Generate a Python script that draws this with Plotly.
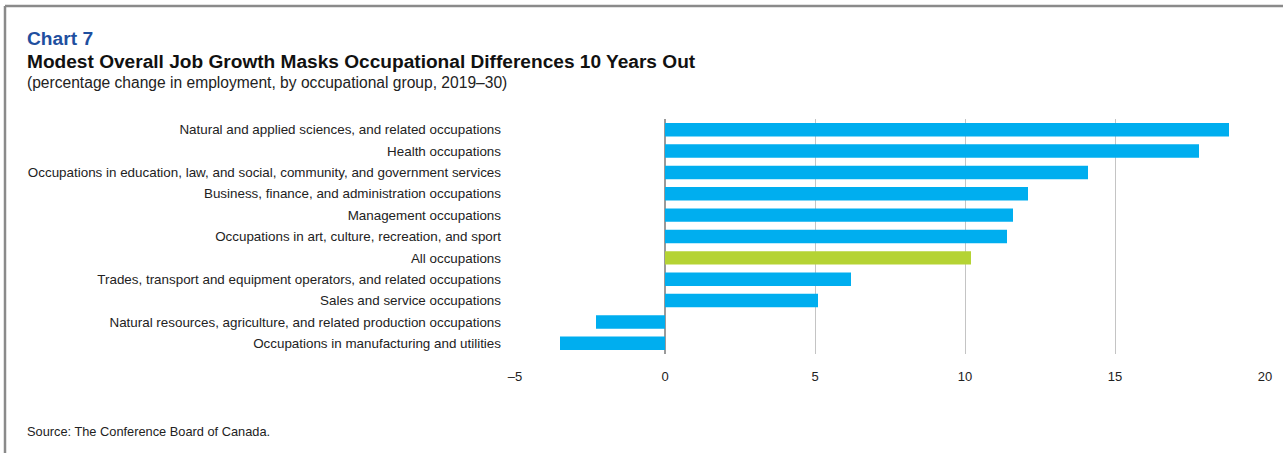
import plotly.graph_objects as go

# Occupational groups, top to bottom
categories = [
    "Natural and applied sciences, and related occupations",
    "Health occupations",
    "Occupations in education, law, and social, community, and government services",
    "Business, finance, and administration occupations",
    "Management occupations",
    "Occupations in art, culture, recreation, and sport",
    "All occupations",
    "Trades, transport and equipment operators, and related occupations",
    "Sales and service occupations",
    "Natural resources, agriculture, and related production occupations",
    "Occupations in manufacturing and utilities",
]
# Percentage change in employment, 2019-30
pct_change = [18.8, 17.8, 14.1, 12.1, 11.6, 11.4, 10.2, 6.2, 5.1, -2.3, -3.5]
x_ticks = [-5, 0, 5, 10, 15, 20]

BLUE = "#00AEEF"
GREEN = "#B5D334"
colors = [GREEN if c == "All occupations" else BLUE for c in categories]

FONT = "Liberation Sans, Arial, sans-serif"

fig = go.Figure(
    go.Bar(
        x=pct_change,
        y=categories,
        orientation="h",
        marker=dict(color=colors, line=dict(width=0)),
        width=0.63,
        hoverinfo="x+y",
    )
)

W, H = 1287, 453
L, R, T, B = 515, 22, 118.5, 98.5
fig.update_layout(
    width=W,
    height=H,
    margin=dict(l=L, r=R, t=T, b=B),
    paper_bgcolor="white",
    plot_bgcolor="white",
    showlegend=False,
    font=dict(family=FONT, color="#222222", size=12),
    xaxis=dict(
        range=[-5, 20],
        tickvals=x_ticks,
        ticktext=["\u20135" if v < 0 else str(v) for v in x_ticks],
        showgrid=True,
        gridcolor="#c4c4c4",
        gridwidth=1,
        zeroline=True,
        zerolinecolor="#9a9a9a",
        zerolinewidth=1.5,
        showline=False,
        ticks="",
        ticklabelstandoff=13,
        tickfont=dict(size=13, color="#222222"),
    ),
    yaxis=dict(
        categoryorder="array",
        categoryarray=categories,
        autorange="reversed",
        showgrid=False,
        zeroline=False,
        showline=False,
        ticks="",
        ticklabelstandoff=13,
        tickfont=dict(size=13.4, color="#222222"),
    ),
)

def px_x(x):
    return (x - L) / (W - L - R)

def px_y(y):
    return 1 - (y - T) / (H - T - B)

# Outer frame (top and left edges)
frame = dict(color="#8a8a8a", width=2.5)
fig.add_shape(type="line", xref="paper", yref="paper",
              x0=px_x(5), x1=px_x(1283), y0=px_y(5), y1=px_y(5), line=frame)
fig.add_shape(type="line", xref="paper", yref="paper",
              x0=px_x(5), x1=px_x(5), y0=px_y(5), y1=px_y(458), line=frame)

texts = [
    ("Chart 7", 38, 19.2, "#1f4f9f", True),
    ("Modest Overall Job Growth Masks Occupational Differences 10 Years Out", 61, 19.1, "#111111", True),
    ("(percentage change in employment, by occupational group, 2019\u201330)", 82, 15.6, "#222222", False),
    ("Source: The Conference Board of Canada.", 432, 12.8, "#222222", False),
]
for txt, y, size, color, bold in texts:
    fig.add_annotation(
        text=f"<b>{txt}</b>" if bold else txt,
        xref="paper", yref="paper",
        x=px_x(25), y=px_y(y),
        xanchor="left", yanchor="middle",
        showarrow=False,
        font=dict(family=FONT, size=size, color=color),
    )

fig.write_html("out.html")
